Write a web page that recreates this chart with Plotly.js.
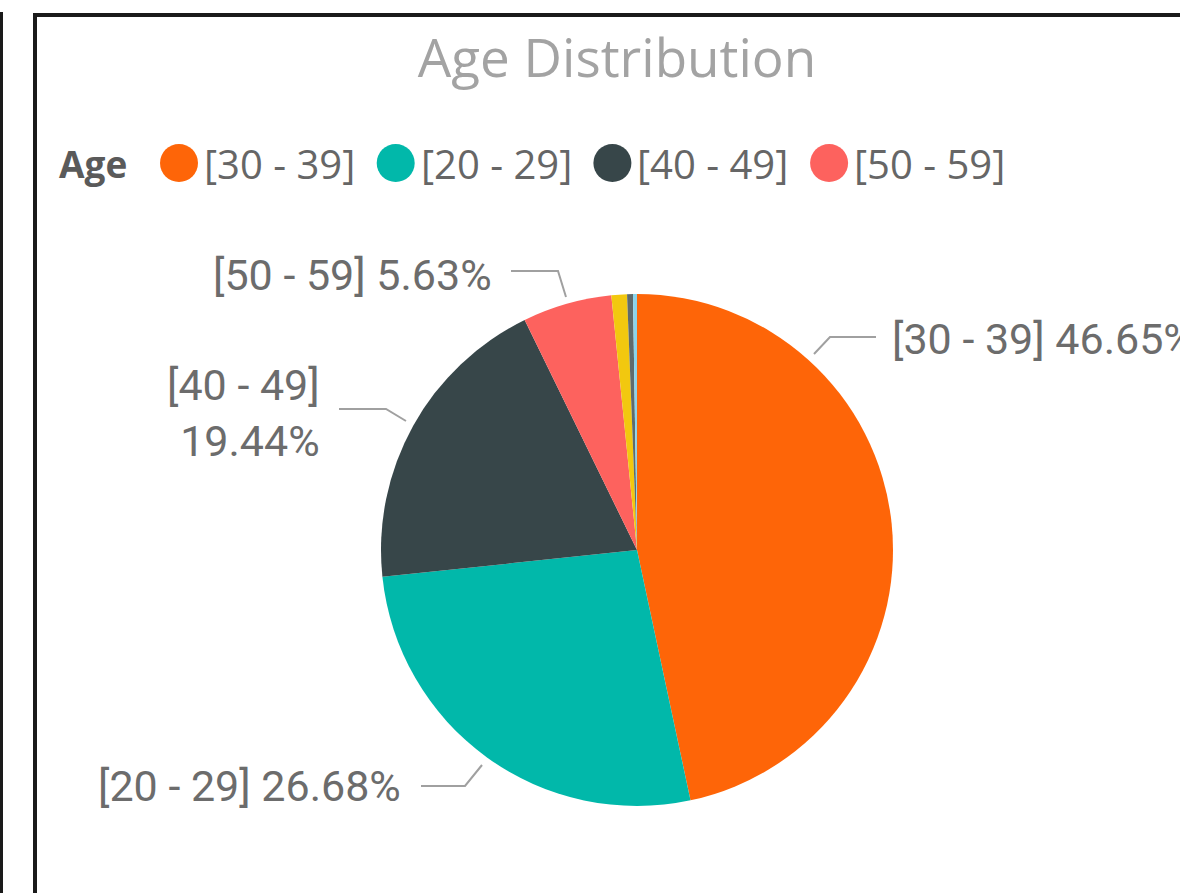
<!DOCTYPE html>
<html>
<head>
<meta charset="utf-8">
<script src="https://cdn.plot.ly/plotly-3.0.1.min.js"></script>
<style>html,body{margin:0;padding:0;background:#fff;}#chart{width:1180px;height:893px;}</style>
</head>
<body>
<div id="chart"></div>
<script>
// ---- data ----
var categories = ['[30 - 39]', '[20 - 29]', '[40 - 49]', '[50 - 59]', '[60 - 69]', '[10 - 19]', '[70 - 79]'];
var shares = [46.65, 26.68, 19.44, 5.63, 0.98, 0.37, 0.25];
var colors = ['#FE6508', '#01B8AA', '#374649', '#FD625E', '#F2C80F', '#5F6B6D', '#8AD4EB'];
var legendCount = 4;
var chartTitle = 'Age Distribution';
var legendTitle = 'Age';

// ---- layout helpers (pixel -> paper) ----
var W = 1180, H = 893;
function px(x) { return x / W; }
function py(y) { return 1 - y / H; }

// label placement (layout only)
var labelLayout = [
  {x: 890, y: 339, anchor: 'left', br: false, line: [[814, 354], [830, 337], [876, 337]]},
  {x: 403, y: 786, anchor: 'right', br: false, line: [[421, 786], [465, 786], [482, 765]]},
  {x: 322, y: 413, anchor: 'right', br: true, line: [[339, 409], [386, 409], [406, 421]]},
  {x: 494, y: 275, anchor: 'right', br: false, line: [[511, 271], [558, 271], [566, 297]]}
];

var annotations = [];
var shapes = [];

// frame borders
shapes.push({type: 'line', xref: 'paper', yref: 'paper', x0: px(1.5), x1: px(1.5), y0: py(12), y1: -0.05, line: {color: '#1a1a1a', width: 3}});
shapes.push({type: 'rect', xref: 'paper', yref: 'paper', x0: px(35), x1: 1.05, y0: -0.05, y1: py(15), line: {color: '#1a1a1a', width: 4}});

// data labels with leader lines
for (var i = 0; i < labelLayout.length; i++) {
  var L = labelLayout[i];
  var pct = shares[i].toFixed(2) + '%';
  annotations.push({
    xref: 'paper', yref: 'paper', x: px(L.x), y: py(L.y),
    xanchor: L.anchor, yanchor: 'middle', showarrow: false, align: 'right',
    text: categories[i] + (L.br ? '<br>' : ' ') + pct,
    font: {family: 'Roboto, sans-serif', size: 43, color: '#6c6c6c'}
  });
  var p = 'M ' + L.line.map(function (q) { return px(q[0]) + ',' + py(q[1]); }).join(' L ');
  shapes.push({type: 'path', xref: 'paper', yref: 'paper', path: p, line: {color: '#a0a0a0', width: 2}});
}

// legend
annotations.push({
  xref: 'paper', yref: 'paper', x: px(57), y: py(164), xanchor: 'left', yanchor: 'middle', showarrow: false,
  text: '<b>' + legendTitle + '</b>', font: {family: 'Open Sans, sans-serif', size: 37, color: '#5a5a5a'}
});
var legendX0 = 179, legendStep = 216.7, legendY = 163, r = 19;
for (var k = 0; k < legendCount; k++) {
  var cx = legendX0 + k * legendStep;
  shapes.push({type: 'circle', xref: 'paper', yref: 'paper', x0: px(cx - r), x1: px(cx + r), y0: py(legendY + r), y1: py(legendY - r),
    fillcolor: colors[k], line: {width: 0}});
  annotations.push({
    xref: 'paper', yref: 'paper', x: px(cx + 23), y: py(legendY), xanchor: 'left', yanchor: 'middle', showarrow: false,
    text: categories[k], font: {family: 'Open Sans, sans-serif', size: 40, color: '#666666'}
  });
}

var trace = {
  type: 'pie',
  labels: categories,
  values: shares,
  marker: {colors: colors, line: {width: 0}},
  sort: false,
  direction: 'clockwise',
  rotation: 0,
  textinfo: 'none',
  hoverinfo: 'label+percent',
  showlegend: false,
  domain: {x: [px(381), px(893)], y: [py(806), py(294)]}
};

var layout = {
  width: W, height: H,
  margin: {l: 0, r: 0, t: 0, b: 0},
  paper_bgcolor: '#ffffff',
  showlegend: false,
  title: {text: chartTitle, x: px(617), xanchor: 'center', y: py(58), yanchor: 'middle',
    font: {family: 'Open Sans, sans-serif', size: 53, color: '#A3A3A3'}},
  annotations: annotations,
  shapes: shapes
};

Plotly.newPlot('chart', [trace], layout, {displayModeBar: false});
</script>
</body>
</html>
